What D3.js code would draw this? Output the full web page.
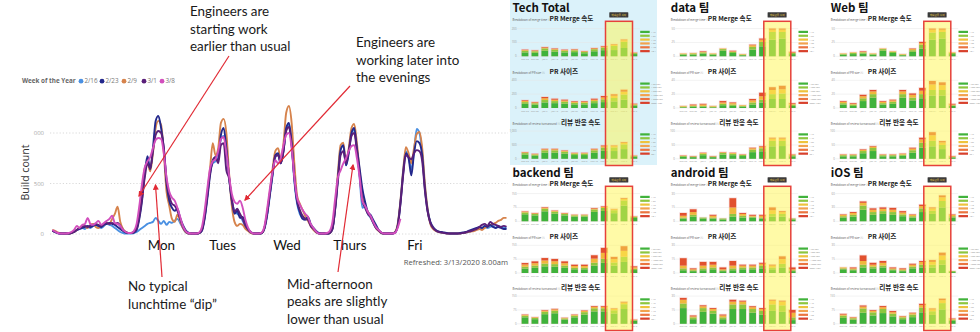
<!DOCTYPE html>
<html><head><meta charset="utf-8">
<script src="https://cdn.jsdelivr.net/npm/d3@7"></script>
<style>body{margin:0;background:#fff}svg{display:block}</style>
</head><body>
<svg id="c" width="980" height="332"></svg>
<script>
// ---------------- LEFT CHART DATA (hourly build counts, Sun 00h .. Sat 23h) ----------------
const weekNames = ["2/16","2/23","2/9","3/1","3/8"];
const dayLabels = ["Mon","Tues","Wed","Thurs","Fri"];
const dayLabelHours = [40.1,62.6,86.3,109.4,133.3];
const yTicks = [0,500,1000];
const yTickLabels = ["0","500","000"];

const wk0216 = [
30,20,10,5,5,5,10,15,25,40,50,60,50,70,60,80,90,70,60,80,100,90,80,60,
40,20,10,5,5,5,10,20,40,60,80,100,110,120,160,130,100,130,90,120,110,130,150,110,
60,20,5,5,5,5,10,40,160,380,620,700,720,800,940,970,820,560,330,230,200,180,130,70,
40,15,5,5,5,10,50,180,380,580,760,790,700,830,1040,1080,880,520,300,200,160,150,160,90,
50,20,5,5,5,5,10,50,260,560,850,870,680,830,1000,1030,830,560,260,270,200,160,110,60,
35,10,5,5,5,5,15,90,320,620,820,760,640,820,1040,1000,800,470,240,110,60,35,20,15,
10,5,5,5,5,5,5,10,15,20,30,40,50,60,50,70,60,70,80,60,80,70,60,60];
const wk0223 = [
30,20,10,5,5,5,5,10,20,40,50,60,70,80,70,80,90,80,70,90,100,110,100,90,
70,50,30,15,10,10,15,40,150,330,600,770,640,850,1120,1170,1050,850,500,330,260,230,250,160,
90,40,15,5,5,5,10,30,150,350,580,730,760,720,980,1050,850,560,330,200,230,160,170,100,
50,20,5,5,5,10,60,200,400,600,780,800,700,820,1050,1100,900,550,320,220,150,140,170,100,
60,30,10,5,5,5,10,50,250,550,830,880,680,800,1000,1050,850,650,450,320,220,190,140,90,
40,15,5,5,5,5,15,80,300,600,800,750,580,800,920,900,780,450,230,120,70,40,25,20,
15,10,5,5,5,5,10,15,20,30,40,50,60,70,60,80,70,90,70,60,70,60,50,50];
const wk0209 = [
40,30,15,10,5,5,5,10,20,40,60,80,70,60,90,100,70,60,80,90,110,100,150,200,
270,120,50,20,10,10,20,60,200,420,650,700,620,800,1050,1120,1080,800,420,280,150,120,190,130,
60,20,5,5,5,5,10,40,180,400,650,900,780,850,1100,1140,1000,600,280,120,80,100,90,50,
30,10,5,5,5,10,60,220,420,650,820,850,740,900,1200,1267,1100,700,380,300,240,180,130,80,
40,15,5,5,5,5,10,60,280,600,880,905,700,850,1050,1090,900,620,400,280,220,170,120,60,
30,10,5,5,5,5,20,100,330,630,860,800,700,850,990,1010,850,500,250,100,50,30,20,15,
10,5,5,5,5,5,5,10,15,20,25,30,40,50,40,60,70,90,100,110,130,140,160,160];
const wk0301 = [
30,20,10,5,5,5,5,10,20,40,60,70,80,70,80,90,100,90,80,100,110,100,110,100,
110,80,40,20,10,10,20,50,170,350,560,700,650,820,980,1020,1000,850,540,380,300,280,230,150,
70,25,5,5,5,5,10,40,170,380,600,720,760,700,880,900,630,550,350,220,250,200,150,80,
40,15,5,5,5,10,60,200,400,600,770,780,700,820,1020,1060,880,560,330,240,180,150,140,80,
50,20,5,5,5,5,10,50,240,520,780,820,700,820,970,1000,820,590,330,260,200,170,110,60,
35,10,5,5,5,5,15,80,300,580,780,760,740,800,830,820,720,430,220,110,60,35,20,15,
10,5,5,5,5,5,5,10,15,25,30,40,50,70,90,100,80,120,100,90,80,70,80,70];
const wk0308 = [
40,25,10,5,5,5,10,20,40,80,60,90,100,160,100,90,110,130,90,110,130,150,180,110,
100,80,40,20,10,10,30,100,280,500,660,720,760,850,930,950,940,800,560,420,360,330,260,170,
80,30,10,5,5,5,15,70,230,450,650,720,740,820,940,960,800,580,400,320,300,330,260,140,
60,20,5,5,5,15,80,250,450,620,730,700,750,880,980,1000,850,560,360,290,240,200,170,100,
60,25,5,5,5,10,30,120,350,560,630,700,750,820,870,880,750,560,330,280,220,180,120,70,
40,15,5,5,5,5,10,60,150];

// ---------------- RIGHT DASHBOARDS DATA ----------------
const teams = ["Tech Total","data 팀","Web 팀","backend 팀","android 팀","iOS 팀"];
const weeks = ["Dec 23","Dec 30","Jan 6","Jan 13","Jan 20","Jan 27","Feb 3","Feb 10","Feb 17","Feb 24","Mar 2","Mar 9"];
const mergeLegend = ["< 1h","< 6h","< 1d","< 3d","< 1w","1w +"];
const sizeLegend = ["< 50 LOC","< 200 LOC","< 500 LOC","< 1000 LOC","< 2000 LOC","2000+ LOC"];
const reviewLegend = ["< 1h","< 4h","< 8h","< 1d","< 2d","2d +"];
const mergeMax = [200,50,50,150,30,60];
const sizeMax = [400,40,40,150,30,30];
const reviewMax = [1000,100,100,150,30,150];
// each bar: [fast(dark green), ok(light green), slow(orange), slowest(red)]
const techMerge = [[28,12,5,3],[25,11,4,3],[40,17,6,4],[33,14,5,4],[28,12,5,3],[30,13,5,3],[22,10,4,2],[36,15,6,3],[44,19,7,4],[45,30,8,4],[60,45,11,5],[16,7,3,1]];
const techSize = [[60,25,16,10],[48,20,12,7],[80,35,26,18],[70,30,20,14],[62,28,18,12],[52,22,14,9],[52,22,14,9],[70,30,20,14],[85,40,28,20],[95,50,32,21],[120,75,40,29],[34,14,9,5]];
const techReview = [[150,55,25,12],[110,42,19,10],[220,85,38,18],[220,85,38,18],[185,70,30,15],[135,50,22,10],[135,50,22,10],[220,85,38,18],[290,115,50,25],[280,130,48,22],[350,170,58,25],[75,28,11,5]];
const dataMerge = [[3,1,1,0],[3,2,1,0],[5,2,1,1],[3,1,1,0],[10,3,1,0],[6,2,1,1],[2,1,1,0],[12,5,3,1],[18,8,4,2],[30,14,4,2],[32,12,4,2],[4,2,1,1]];
const dataSize = [[1,1,1,0],[2,1,1,1],[2,1,2,1],[1,1,1,0],[4,2,2,2],[3,2,2,1],[2,1,1,0],[5,3,3,2],[8,4,5,5],[13,7,6,4],[13,8,6,5],[3,2,1,1]];
const dataReview = [[7,3,1,1],[6,2,1,1],[13,5,3,1],[6,2,1,1],[15,6,2,1],[13,5,3,1],[10,4,1,1],[24,9,5,2],[27,11,6,2],[45,20,8,3],[46,19,8,3],[9,4,2,1]];
const webMerge = [[3,1,1,0],[4,2,1,0],[5,2,1,1],[3,1,1,0],[10,3,1,0],[6,2,1,0],[2,1,1,0],[8,3,2,1],[14,7,3,2],[30,13,5,2],[32,12,4,2],[4,2,1,0]];
const webSize = [[5,2,2,1],[3,2,1,1],[10,4,3,2],[15,5,4,2],[5,2,2,1],[6,3,2,1],[15,5,4,2],[11,4,4,2],[14,6,5,4],[18,8,8,5],[18,8,7,4],[3,1,1,1]];
const webReview = [[9,4,2,1],[9,4,2,1],[20,8,4,2],[28,11,5,2],[9,4,2,1],[9,4,2,1],[11,4,3,1],[22,9,6,3],[40,18,12,6],[45,20,20,11],[35,15,9,5],[5,2,2,1]];
const backendMerge = [[38,10,4,2],[32,8,3,2],[54,14,5,3],[41,11,4,2],[32,8,3,2],[25,7,3,1],[25,7,3,1],[51,13,5,3],[56,16,6,3],[44,16,5,2],[85,28,9,4],[18,6,2,1]];
const backendSize = [[24,10,12,8],[28,12,13,10],[36,15,17,13],[34,14,16,12],[28,12,13,10],[20,8,10,7],[20,8,10,7],[40,16,22,18],[55,22,32,27],[40,17,18,12],[60,28,32,25],[16,7,8,5]];
const backendReview = [[35,9,4,2],[25,7,3,1],[52,13,6,3],[57,14,7,3],[23,6,3,1],[35,9,4,2],[50,13,6,3],[67,17,8,4],[67,17,8,4],[56,17,7,3],[80,26,9,4],[16,4,2,1]];
const androidMerge = [[3,1,2,3],[5,2,3,3],[3,1,0,0],[3,1,2,1],[2,1,0,0],[5,3,7,10],[4,2,2,1],[4,1,1,1],[3,1,2,1],[5,3,4,3],[5,3,2,1],[2,1,0,0]];
const androidSize = [[3,2,3,8],[2,1,1,1],[3,2,3,4],[4,2,3,3],[2,1,1,2],[3,2,3,5],[4,2,2,1],[4,2,2,1],[5,3,2,1],[4,2,2,1],[6,4,5,3],[2,1,1,2]];
const androidReview = [[17,5,4,2],[5,2,1,1],[13,4,2,1],[11,3,2,1],[5,2,2,1],[16,5,3,2],[16,5,3,1],[12,4,2,1],[10,4,2,1],[14,7,4,1],[13,7,4,1],[4,3,5,3]];
const iosMerge = [[8,3,3,1],[10,4,4,2],[25,9,6,3],[14,6,5,3],[16,6,5,3],[14,6,5,4],[11,4,4,3],[8,3,3,1],[20,8,5,3],[16,7,5,2],[30,14,8,4],[8,3,3,1]];
const iosSize = [[4,1,1,0],[3,1,1,1],[6,3,4,6],[5,2,2,2],[6,2,3,2],[3,1,1,1],[2,1,1,1],[5,2,2,1],[6,3,3,1],[6,3,3,2],[9,5,5,3],[1,1,0,0]];
const iosReview = [[32,12,6,4],[22,8,4,2],[60,23,10,6],[45,17,8,4],[58,22,10,6],[40,15,8,6],[25,10,5,2],[36,14,7,3],[62,26,13,7],[48,20,10,5],[78,34,16,8],[16,7,4,2]];

// ---------------- DRAWING ----------------
const svg = d3.select("#c");
const LATO = "Lato, 'Open Sans', sans-serif";
const KR = "'Noto Sans CJK KR', 'Noto Sans', sans-serif";
const NOTE_FS = 13.4;

// ---- left line chart ----
const seriesColors = ["#4a90e2","#23288c","#d6834c","#5a1f79","#d24fbd"];
const seriesValues = [wk0216, wk0223, wk0209, wk0301, wk0308];
const x = d3.scaleLinear().domain([0,167]).range([52.3,506.5]);
const y = d3.scaleLinear().domain([0,1000]).range([234,133]);

const grid = svg.append("g");
grid.selectAll("line").data(yTicks).join("line")
  .attr("x1",50).attr("x2",508).attr("y1",d=>y(d)).attr("y2",d=>y(d))
  .attr("stroke","#cfcfcf").attr("stroke-width",0.8).attr("stroke-dasharray","1.2,2");
const yAxis = d3.axisLeft(y).tickValues(yTicks).tickFormat((d,i)=>yTickLabels[i]).tickSize(0).tickPadding(0);
const ya = svg.append("g").attr("transform","translate(44,0)").call(yAxis);
ya.select(".domain").remove();
ya.selectAll("text").attr("fill","#aaa").attr("font-size",6).attr("font-family","'Open Sans',sans-serif");

svg.append("text").attr("transform","translate(28.5,172.5) rotate(-90)").attr("text-anchor","middle")
  .attr("font-family","'Open Sans',sans-serif").attr("font-size",10.6).attr("fill","#333").text("Build count");

const line = d3.line().x((d,i)=>x(i)).y(d=>y(d)).curve(d3.curveMonotoneX);
const drawOrder = [0,2,1,3,4];
svg.append("g").selectAll("path").data(drawOrder).join("path")
  .attr("d",k=>line(seriesValues[k])).attr("fill","none")
  .attr("stroke",k=>seriesColors[k]).attr("stroke-width",1.9).attr("stroke-linejoin","round");

// legend
const lg = svg.append("g").attr("font-family","'Open Sans',sans-serif").attr("font-size",6.3);
lg.append("text").attr("x",22).attr("y",83.3).attr("font-weight","bold").attr("fill","#666").text("Week of the Year");
const legendX = [81,102,124,144,162];
weekNames.forEach((w,i)=>{
  lg.append("circle").attr("cx",legendX[i]).attr("cy",81.2).attr("r",2.4).attr("fill",seriesColors[i]);
  lg.append("text").attr("x",legendX[i]+3.4).attr("y",83.3).attr("fill","#777").text(w);
});

// day labels
svg.append("g").selectAll("text").data(dayLabels).join("text")
  .attr("x",(d,i)=>x(dayLabelHours[i])).attr("y",250).attr("text-anchor","middle")
  .attr("font-family",LATO).attr("font-size",NOTE_FS).attr("fill","#111").text(d=>d);

svg.append("text").attr("x",508).attr("y",265).attr("text-anchor","end")
  .attr("font-family","'Open Sans',sans-serif").attr("font-size",7.6).attr("fill","#555").text("Refreshed: 3/13/2020 8.00am");

// annotations
const defs = svg.append("defs");
defs.append("marker").attr("id","ah").attr("viewBox","0 0 10 10").attr("refX",8).attr("refY",5)
  .attr("markerWidth",5).attr("markerHeight",5).attr("orient","auto")
  .append("path").attr("d","M0,0L10,5L0,10z").attr("fill","#e12a34");
const arrows = [[229,56,139,196],[350,86,245,200],[162,277,155.5,185],[338,272,353,165]];
svg.append("g").selectAll("line").data(arrows).join("line")
  .attr("x1",d=>d[0]).attr("y1",d=>d[1]).attr("x2",d=>d[2]).attr("y2",d=>d[3])
  .attr("stroke","#e12a34").attr("stroke-width",1.2).attr("marker-end","url(#ah)");
const notes = [
  {x:190,y:16,lines:["Engineers are","starting work","earlier than usual"]},
  {x:356,y:47,lines:["Engineers are","working later into","the evenings"]},
  {x:128,y:291,lines:["No typical","lunchtime \u201cdip\u201d"]},
  {x:287,y:288.5,lines:["Mid-afternoon","peaks are slightly","lower than usual"]}];
notes.forEach(n=>{
  const t = svg.append("text").attr("font-family",LATO).attr("font-size",NOTE_FS).attr("fill","#1a1a1a");
  n.lines.forEach((l,i)=>t.append("tspan").attr("x",n.x).attr("y",n.y+i*17.6).text(l));
});

// ---- right dashboards ----
const panelStacks = [
  [techMerge,techSize,techReview],[dataMerge,dataSize,dataReview],[webMerge,webSize,webReview],
  [backendMerge,backendSize,backendReview],[androidMerge,androidSize,androidReview],[iosMerge,iosSize,iosReview]];
const panelMax = teams.map((t,i)=>[mergeMax[i],sizeMax[i],reviewMax[i]]);
const chartCaps = [["Breakdown of merge time \u24d8","PR Merge 속도"],["Breakdown of PR size \u24d8","PR 사이즈"],["Breakdown of review turnaround \u24d8","리뷰 반응 속도"]];
const chartLegends = [mergeLegend,sizeLegend,reviewLegend];
const stackColors = ["#40b23b","#8dc63f","#f0b73c","#e1512e"];
const legendColors = ["#40b23b","#8dc63f","#eec33c","#f2a24e","#ea7440","#d8402c"];
const panelCx = [525,683.3,843.3,525,683.3,843.3];
const panelTop = [0,0,0,165,165,165];
const STEP = 9.9, PH = 27.7;
const baseRel = [56.3,108,158.8];
const capRel = [21,73.5,124.8];
const boldDx = [24.5,24.5,36];

svg.insert("rect",":first-child").attr("x",510).attr("y",0).attr("width",147).attr("height",165).attr("fill","#dbf2fa");

teams.forEach((team,p)=>{
  const cx0 = panelCx[p], top = panelTop[p];
  const g = svg.append("g");
  g.append("text").attr("x",cx0-12.5).attr("y",top+11.8).attr("font-family",KR).attr("font-weight","bold")
    .attr("font-size",11.5).attr("fill","#111").text(team);
  [0,1,2].forEach(c=>{
    const base = top+baseRel[c];
    const xs = d3.scaleBand().domain(weeks).range([cx0-STEP/2, cx0-STEP/2+12*STEP]).paddingInner(0.32).paddingOuter(0.16);
    const ys = d3.scaleLinear().domain([0,panelMax[p][c]]).range([base, base-PH]);
    const ticks = [0,panelMax[p][c]/2,panelMax[p][c]];
    g.append("text").attr("x",cx0-12.5).attr("y",top+capRel[c]).attr("font-family",KR).attr("font-size",2.9).attr("fill","#666").text(chartCaps[c][0]);
    g.append("text").attr("x",cx0+boldDx[c]).attr("y",top+capRel[c]).attr("font-family",KR).attr("font-weight","bold").attr("font-size",6.6).attr("fill","#222").text(chartCaps[c][1]);
    g.append("g").selectAll("line").data(ticks).join("line")
      .attr("x1",cx0-8).attr("x2",cx0+11*STEP+6).attr("y1",d=>ys(d)).attr("y2",d=>ys(d))
      .attr("stroke","#e4e4e4").attr("stroke-width",0.5);
    g.append("g").selectAll("text").data(ticks).join("text")
      .attr("x",cx0-8.5).attr("y",d=>ys(d)+1).attr("text-anchor","end").attr("font-size",2.8)
      .attr("font-family","'Open Sans',sans-serif").attr("fill","#999").text(d=>d3.format(",")(d));
    const rows = weeks.map((w,i)=>({w, a:panelStacks[p][c][i][0], b:panelStacks[p][c][i][1], o:panelStacks[p][c][i][2], r:panelStacks[p][c][i][3]}));
    const st = d3.stack().keys(["a","b","o","r"])(rows);
    g.append("g").selectAll("rect").data(rows).join("rect")
      .attr("x",d=>xs(d.w)-0.7).attr("width",xs.bandwidth()+1.4)
      .attr("y",d=>ys(d.a+d.b+d.o+d.r)-0.8).attr("height",d=>base-ys(d.a+d.b+d.o+d.r)+0.8)
      .attr("fill","#f1c4c4").attr("opacity",0.55);
    st.forEach((layer,k)=>{
      g.append("g").selectAll("rect").data(layer).join("rect")
        .attr("x",d=>xs(d.data.w)).attr("width",xs.bandwidth())
        .attr("y",d=>ys(d[1])).attr("height",d=>Math.max(0,ys(d[0])-ys(d[1])))
        .attr("fill",stackColors[k]);
    });
    g.append("g").selectAll("text").data(weeks).join("text")
      .attr("x",d=>xs(d)+xs.bandwidth()/2).attr("y",base+3.6).attr("text-anchor","middle")
      .attr("font-size",2.4).attr("font-family","'Open Sans',sans-serif").attr("fill","#999").text(d=>d);
    const lx = cx0+11*STEP+6.3;
    chartLegends[c].forEach((l,i)=>{
      g.append("rect").attr("x",lx).attr("y",base-25.5+i*3.85).attr("width",9.5).attr("height",2.2).attr("fill",legendColors[i]);
      g.append("text").attr("x",lx+11).attr("y",base-23.5+i*3.85).attr("font-size",2.2).attr("font-family","'Open Sans',sans-serif").attr("fill","#888").text(l);
    });
  });
  const hy = top+21.3, hh = Math.min(332, top+165.5) - hy;
  g.append("rect").attr("x",cx0+80.5).attr("y",hy).attr("width",27).attr("height",hh)
    .attr("fill","rgba(255,246,80,0.5)").attr("stroke","#e6413a").attr("stroke-width",1.5);
  g.append("rect").attr("x",cx0+84.3).attr("y",top+12.2).attr("width",19).attr("height",5.4).attr("rx",0.6).attr("fill","#3a3a3a");
  g.append("text").attr("x",cx0+93.8).attr("y",top+15.8).attr("text-anchor","middle").attr("font-family",KR)
    .attr("font-size",2.6).attr("fill","#f2d54a").text("재택근무 시작");
});
</script></body></html>
